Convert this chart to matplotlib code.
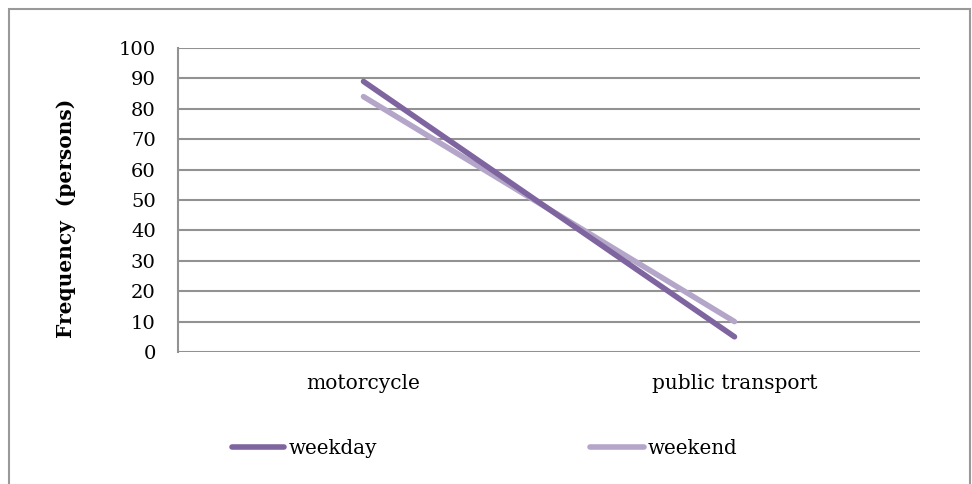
import matplotlib
matplotlib.use("Agg")
import matplotlib.pyplot as plt
from matplotlib.patches import Rectangle
from matplotlib.lines import Line2D

categories = ["motorcycle", "public transport"]
weekday = [89, 5]
weekend = [84, 10]
series_names = ["weekday", "weekend"]
yticks = list(range(0, 101, 10))

plt.rcParams['font.family'] = ['DejaVu Serif']

W, H = 972, 484
fig = plt.figure(figsize=(W / 100, H / 100), dpi=100)
ax = fig.add_axes([178 / W, 1 - 352 / H, (920 - 178) / W, (352 - 48) / H])

c_wd = "#7f659f"
c_we = "#b3a6c9"
x = [0.5, 1.5]
ax.plot(x, weekday, color=c_wd, lw=4, solid_capstyle='round', zorder=3)
ax.plot(x, weekend, color=c_we, lw=4, solid_capstyle='round', zorder=2)

ax.set_xlim(0, 2)
ax.set_ylim(0, 100)
ax.set_yticks(yticks)
ax.set_yticklabels([str(v) for v in yticks], fontsize=14)
ax.set_xticks(x)
ax.set_xticklabels(categories, fontsize=14.5)
ax.tick_params(axis='y', length=0, pad=16)
ax.tick_params(axis='x', length=0, pad=16)
ax.yaxis.grid(True, color="#929292", lw=1.5)
ax.set_axisbelow(True)
for s in ["top", "right", "bottom"]:
    ax.spines[s].set_visible(False)
ax.spines["left"].set_color("#929292")
ax.spines["left"].set_linewidth(1.5)

fig.text(66 / W, 1 - 218 / H, "Frequency  (persons)", rotation=90, fontsize=14.5,
         fontweight='bold', ha='center', va='center')

# legend
fig.add_artist(Line2D([232 / W, 284 / W], [1 - 447 / H] * 2, color=c_wd, lw=4,
                      solid_capstyle='round'))
fig.text(289 / W, 1 - 449 / H, series_names[0], fontsize=14.3, ha='left', va='center')
fig.add_artist(Line2D([590 / W, 644 / W], [1 - 447 / H] * 2, color=c_we, lw=4,
                      solid_capstyle='round'))
fig.text(648 / W, 1 - 449 / H, series_names[1], fontsize=14.3, ha='left', va='center')

# outer border
fig.add_artist(Rectangle((8.5 / W, -0.1), (969.5 - 8.5) / W, 1 - 8.5 / H + 0.1,
                         transform=fig.transFigure, fill=False,
                         edgecolor="#999999", lw=1.5))

fig.savefig("out.png", dpi=100)
